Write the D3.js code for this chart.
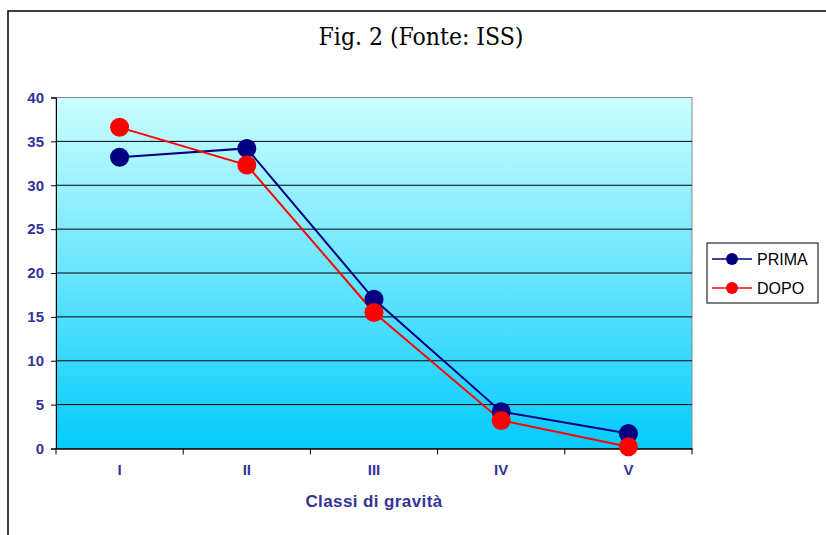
<html>
<head>
<script src="https://d3js.org/d3.v7.min.js"></script>
<style>
  body { margin: 0; background: #fff; }
  text { font-family: Arial, "Liberation Sans", sans-serif; }
</style>
</head>
<body>
<svg width="826" height="535"></svg>
<script>
// chart data
var categories = ["I", "II", "III", "IV", "V"];
var prima = [33.2, 34.2, 17.0, 4.2, 1.7];
var dopo = [36.6, 32.3, 15.5, 3.2, 0.2];
var yTicks = [0, 5, 10, 15, 20, 25, 30, 35, 40];
var seriesNames = ["PRIMA", "DOPO"];
var seriesColors = ["#000080", "#ff0000"];

var svg = d3.select("svg");
var plotLeft = 56, plotRight = 692, plotTop = 97.5, plotBottom = 448.5;
var labelColor = "#333399";

// outer frame
svg.append("rect").attr("x", 8).attr("y", 11).attr("width", 830).attr("height", 540)
  .attr("fill", "#fff").attr("stroke", "#000").attr("stroke-width", 1.5);

// title
svg.append("text").attr("x", 421).attr("y", 45).attr("text-anchor", "middle")
  .style("font-family", "'DejaVu Serif Condensed', 'Liberation Serif', serif")
  .style("font-size", "24.5px").attr("fill", "#000")
  .text("Fig. 2 (Fonte: ISS)");

// background gradient
var grad = svg.append("defs").append("linearGradient").attr("id", "bg")
  .attr("x1", 0).attr("y1", 0).attr("x2", 0).attr("y2", 1);
grad.append("stop").attr("offset", "0%").attr("stop-color", "#ccffff");
grad.append("stop").attr("offset", "100%").attr("stop-color", "#05cbfd");

var x = d3.scaleBand().domain(categories).range([plotLeft, plotRight]);
var y = d3.scaleLinear().domain([0, 40]).range([plotBottom, plotTop]);

svg.append("rect").attr("x", plotLeft).attr("y", plotTop)
  .attr("width", plotRight - plotLeft).attr("height", plotBottom - plotTop)
  .attr("fill", "url(#bg)").attr("stroke", "#888").attr("stroke-width", 1);

// gridlines
svg.append("g").selectAll("line").data(yTicks.filter(function(d) { return d > 0 && d < 40; }))
  .enter().append("line")
  .attr("x1", plotLeft).attr("x2", plotRight)
  .attr("y1", function(d) { return y(d); }).attr("y2", function(d) { return y(d); })
  .attr("stroke", "#000").attr("stroke-width", 1);

// y axis
var yAxis = svg.append("g").attr("transform", "translate(" + plotLeft + ",0)")
  .call(d3.axisLeft(y).tickValues(yTicks).tickSize(5).tickPadding(7));
yAxis.select(".domain").attr("stroke", "#000");
yAxis.selectAll("text").attr("fill", labelColor)
  .style("font-size", "15px").style("font-weight", "bold");

// x axis
var xAxis = svg.append("g").attr("transform", "translate(0," + plotBottom + ")")
  .call(d3.axisBottom(x).tickSize(0).tickPadding(16));
xAxis.select(".domain").attr("stroke", "#000").attr("stroke-width", 1.5);
xAxis.selectAll("text").attr("fill", labelColor)
  .style("font-size", "15px").style("font-weight", "bold");
// boundary tick marks
var bounds = categories.map(function(c) { return x(c); }).concat([x.range()[1]]);
xAxis.selectAll(".bt").data(bounds).enter().append("line")
  .attr("x1", function(d) { return d; }).attr("x2", function(d) { return d; })
  .attr("y1", 0).attr("y2", 6).attr("stroke", "#000");

// x axis title
svg.append("text").attr("x", 374).attr("y", 507).attr("text-anchor", "middle")
  .attr("fill", labelColor).style("font-size", "17px").style("font-weight", "bold")
  .style("letter-spacing", "0.4px")
  .text("Classi di gravità");

// series
var series = [prima, dopo];
var line = d3.line()
  .x(function(d, i) { return x(categories[i]) + x.bandwidth() / 2; })
  .y(function(d) { return y(d); });

series.forEach(function(vals, s) {
  svg.append("path").datum(vals).attr("d", line)
    .attr("fill", "none").attr("stroke", seriesColors[s]).attr("stroke-width", 2);
});
series.forEach(function(vals, s) {
  svg.append("g").selectAll("circle").data(vals).enter().append("circle")
    .attr("cx", function(d, i) { return x(categories[i]) + x.bandwidth() / 2; })
    .attr("cy", function(d) { return y(d); })
    .attr("r", 9.5).attr("fill", seriesColors[s]);
});

// legend
var legend = svg.append("g");
legend.append("rect").attr("x", 707).attr("y", 243).attr("width", 111).attr("height", 60)
  .attr("fill", "#fff").attr("stroke", "#000").attr("stroke-width", 1);
seriesNames.forEach(function(name, s) {
  var ly = 259 + s * 29;
  legend.append("line").attr("x1", 712).attr("x2", 752).attr("y1", ly).attr("y2", ly)
    .attr("stroke", seriesColors[s]).attr("stroke-width", 1.5);
  legend.append("circle").attr("cx", 732).attr("cy", ly).attr("r", 6).attr("fill", seriesColors[s]);
  legend.append("text").attr("x", 757).attr("y", ly + 6).attr("fill", "#000")
    .style("font-size", "16px").text(name);
});
</script>
</body>
</html>
